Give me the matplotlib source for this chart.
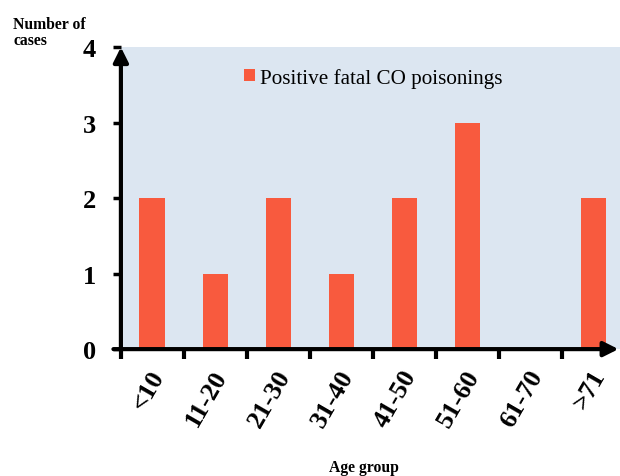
import matplotlib.pyplot as plt
import numpy as np

age_groups = ['<10', '11-20', '21-30', '31-40', '41-50', '51-60', '61-70', '>71']
cases = [2, 1, 2, 1, 2, 3, 0, 2]
y_ticks = [0, 1, 2, 3, 4]

plt.rcParams['font.family'] = ['Liberation Serif', 'DejaVu Serif']

fig = plt.figure(figsize=(6.2, 4.77), dpi=100)
ax = fig.add_axes([0.195, 0.266, 0.805, 0.633])
ax.set_facecolor('#DCE6F1')

x = np.arange(len(age_groups))
ax.bar(x, cases, width=0.41, color='#F85A3E', label='Positive fatal CO poisonings', zorder=2)

ax.set_xlim(-0.5, 7.42)
ax.set_ylim(0, 4)

for s in ax.spines.values():
    s.set_visible(False)

# axes drawn as arrows
ax.annotate('', xy=(0, 1.0), xytext=(0, 0), xycoords='axes fraction',
            arrowprops=dict(arrowstyle='-|>', lw=3, color='k', mutation_scale=22, shrinkA=0, shrinkB=0))
ax.annotate('', xy=(0.997, 0), xytext=(-0.015, 0), xycoords='axes fraction',
            arrowprops=dict(arrowstyle='-|>', lw=3, color='k', mutation_scale=22, shrinkA=0, shrinkB=0))

# ticks at category boundaries, labels at centers
ax.set_xticks(np.arange(-0.5, 7.0, 1.0))
ax.set_xticklabels([])
ax.set_xticks(x + 0.1, minor=True)
ax.set_xticklabels(age_groups, minor=True, rotation=60, ha='right', va='center',
                   rotation_mode='anchor', fontsize=19, fontweight='bold')
ax.tick_params(axis='x', which='major', direction='out', length=7, width=3)
ax.tick_params(axis='x', which='minor', length=0, pad=16)

ax.set_yticks(y_ticks)
ax.set_yticklabels([str(v) for v in y_ticks], fontsize=19, fontweight='bold')
ax.tick_params(axis='y', direction='out', length=6, width=2.5, pad=12)

fig.text(0.021, 0.964, 'Number of\ncases', fontsize=11.3, fontweight='bold', va='top', ha='left',
         multialignment='left', linespacing=1.0)
fig.text(0.587, 0.003, 'Age group', fontsize=11.3, fontweight='bold', ha='center', va='bottom')

ax.legend(loc='upper left', bbox_to_anchor=(0.208, 0.995), frameon=False, fontsize=15.2,
          handlelength=0.55, handleheight=0.55, handletextpad=0.2)

fig.savefig('out.png', dpi=100)
